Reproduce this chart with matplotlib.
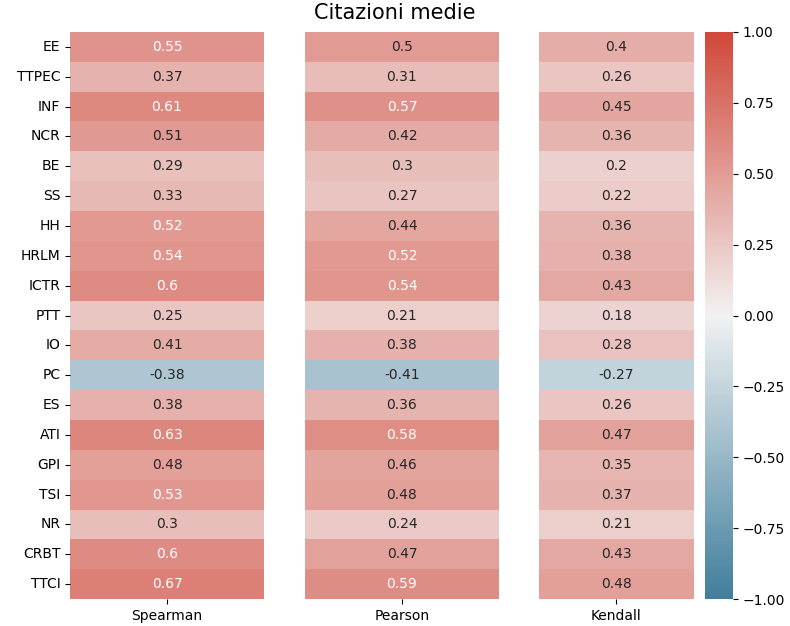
import matplotlib
matplotlib.use("Agg")
import matplotlib.pyplot as plt
import numpy as np
import pandas as pd
import seaborn as sns

labels = ["EE", "TTPEC", "INF", "NCR", "BE", "SS", "HH", "HRLM", "ICTR", "PTT",
          "IO", "PC", "ES", "ATI", "GPI", "TSI", "NR", "CRBT", "TTCI"]
spearman = [0.55, 0.37, 0.61, 0.51, 0.29, 0.33, 0.52, 0.54, 0.6, 0.25,
            0.41, -0.38, 0.38, 0.63, 0.48, 0.53, 0.3, 0.6, 0.67]
pearson = [0.5, 0.31, 0.57, 0.42, 0.3, 0.27, 0.44, 0.52, 0.54, 0.21,
           0.38, -0.41, 0.36, 0.58, 0.46, 0.48, 0.24, 0.47, 0.59]
kendall = [0.4, 0.26, 0.45, 0.36, 0.2, 0.22, 0.36, 0.38, 0.43, 0.18,
           0.28, -0.27, 0.26, 0.47, 0.35, 0.37, 0.21, 0.43, 0.48]

methods = {"Spearman": spearman, "Pearson": pearson, "Kendall": kendall}
cmap = sns.diverging_palette(230, 15, as_cmap=True)

fig = plt.figure(figsize=(7.9, 6.26), dpi=100)
bottom, height = 0.043, 0.906
positions = [
    [0.0886, bottom, 0.2456, height],
    [0.386, bottom, 0.2456, height],
    [0.682, bottom, 0.196, height],
]
cbar_ax = fig.add_axes([0.892, bottom, 0.036, height])

for i, (name, vals) in enumerate(methods.items()):
    ax = fig.add_axes(positions[i])
    df = pd.DataFrame({name: vals}, index=labels)
    last = i == len(methods) - 1
    sns.heatmap(df, ax=ax, cmap=cmap, vmin=-1, vmax=1, annot=True,
                annot_kws={"fontsize": 10}, cbar=last,
                cbar_ax=cbar_ax if last else None,
                yticklabels=(i == 0))
    ax.tick_params(labelsize=10)
    if i == 0:
        ax.set_yticklabels(ax.get_yticklabels(), rotation=0)
    else:
        ax.tick_params(left=False)

cbar_ax.set_yticks(np.arange(-1, 1.01, 0.25))
cbar_ax.tick_params(labelsize=10)
fig.suptitle("Citazioni medie", fontsize=15, y=0.995)

plt.savefig("out.png", dpi=100)
